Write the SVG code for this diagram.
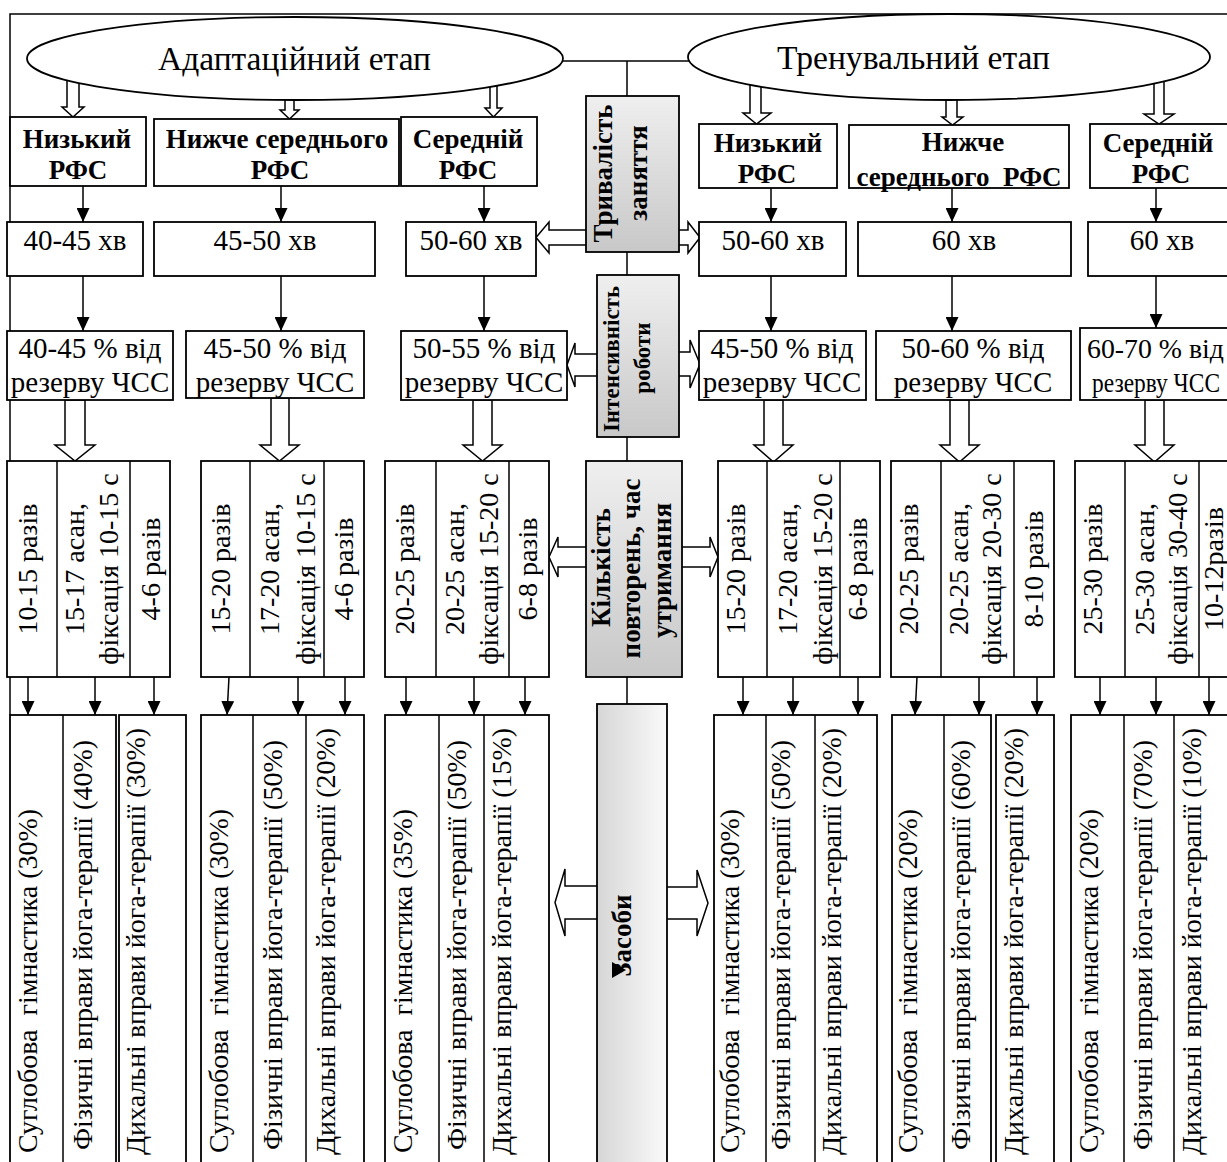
<svg xmlns="http://www.w3.org/2000/svg" width="1227" height="1162" viewBox="0 0 1227 1162" font-family="'Liberation Serif', 'Times New Roman', serif">
<defs>
<style>
.bx{fill:#fff;stroke:#000;stroke-width:1.8}
.gb{stroke:#000;stroke-width:1.8}
.ln{fill:none;stroke:#000;stroke-width:1.5}
.ar{fill:none;stroke:#000;stroke-width:1.5;marker-end:url(#ah)}
.ha{fill:#fff;stroke:#000;stroke-width:1.5}
.tc,.tr,.ts,.b,.bs,.e{font-family:'Liberation Serif','Times New Roman',serif;fill:#000;font-weight:normal}
.tc{font-size:29px;text-anchor:middle}
.tr{font-size:28px;text-anchor:middle}
.ts{font-size:28px;text-anchor:start}
.b{font-size:27px;font-weight:bold;text-anchor:middle}
.bs{font-size:23px;font-weight:bold;text-anchor:middle}
.e{font-size:33px;text-anchor:middle}
</style>
<marker id="ah" viewBox="0 0 14 13" refX="14" refY="6.5" markerWidth="14" markerHeight="13" markerUnits="userSpaceOnUse" orient="auto"><path d="M0,0L14,6.5L0,13Z" fill="#000"/></marker>
<linearGradient id="gv" x1="0" y1="0" x2="0" y2="1"><stop offset="0" stop-color="#efefef"/><stop offset="1" stop-color="#c8c8c8"/></linearGradient>
<linearGradient id="gh" x1="0" y1="0" x2="1" y2="0"><stop offset="0" stop-color="#d6d6d6"/><stop offset="1" stop-color="#fafafa"/></linearGradient>
</defs>
<rect width="1227" height="1162" fill="#fff"/>

<g id="connectors">
<path class="ln" d="M10,715V14H1240"/>
<path class="ln" d="M627,61V704"/>
<path class="ln" d="M563,61H690"/>
<path class="ar" d="M83,186V222"/><path class="ar" d="M83,276V331"/>
<path class="ar" d="M281,186V222"/><path class="ar" d="M281,276V331"/>
<path class="ar" d="M484,186V222"/><path class="ar" d="M484,276V331"/>
<path class="ar" d="M771,188V222"/><path class="ar" d="M771,276V331"/>
<path class="ar" d="M952,188V222"/><path class="ar" d="M952,276V331"/>
<path class="ar" d="M1156,188V222"/><path class="ar" d="M1156,276V328"/>
<path class="ar" d="M28,677V715"/><path class="ar" d="M95,677V715"/><path class="ar" d="M154,677V715"/>
<path class="ar" d="M229,677L227,715"/><path class="ar" d="M298,677V715"/><path class="ar" d="M345,677V715"/>
<path class="ar" d="M406,677V715"/><path class="ar" d="M474,677V715"/><path class="ar" d="M525,677V715"/>
<path class="ar" d="M743,677V715"/><path class="ar" d="M793,677V715"/><path class="ar" d="M858,677V715"/>
<path class="ar" d="M917,677L915,715"/><path class="ar" d="M979,677V715"/><path class="ar" d="M1037,677V715"/>
<path class="ar" d="M1100,677V715"/><path class="ar" d="M1156,677V715"/><path class="ar" d="M1209,677V715"/>
<path class="ha" d="M67,70H79V107H84L73,117L62,107H67Z"/>
<path class="ha" d="M285,90H294V110H299L289.5,119L280,110H285Z"/>
<path class="ha" d="M490,70H497V108H502L493.5,117L485,108H490Z"/>
<path class="ha" d="M750,70H761V113H771L756.5,124L743,113H750Z"/>
<path class="ha" d="M946,90H957V117H963L952.5,125L942,117H946Z"/>
<path class="ha" d="M1154,70H1164V114H1174L1159,124L1144,114H1154Z"/>
<path class="ha" d="M65,400H85V445H95L75,461L55,445H65Z"/>
<path class="ha" d="M271,398H289V445H299L279.5,461L260,445H271Z"/>
<path class="ha" d="M473,400H492V445H502L482.5,461L463,445H473Z"/>
<path class="ha" d="M764,400H783V445H793L773.5,462L754,445H764Z"/>
<path class="ha" d="M950,400H969V445H979L959.5,462L940,445H950Z"/>
<path class="ha" d="M1145,400H1164V445H1174L1154.5,462L1135,445H1145Z"/>
<path class="ha" d="M595,230H549V222L536,237.5L549,253V245H595Z"/>
<path class="ha" d="M670,230H688V222L700,237.5L688,253V245H670Z"/>
<path class="ha" d="M600,354H575V343L567,365L575,387V376H600Z"/>
<path class="ha" d="M670,352H690V340L700,364L690,388V376H670Z"/>
<path class="ha" d="M590,547H558V537L549,557L558,577V567H590Z"/>
<path class="ha" d="M678,547H710V537L718,557L710,577V567H678Z"/>
<path class="ha" d="M600,886H565V869L555,902.5L565,936V919H600Z"/>
<path class="ha" d="M664,887H697V870L708,903L697,936V919H664Z"/>
</g>

<g id="stage-adapt">
<ellipse class="bx" cx="295" cy="58.5" rx="268" ry="41.5"/>
<text class="e" x="294.5" y="70" textLength="273" lengthAdjust="spacingAndGlyphs">Адаптаційний етап</text>
</g>
<g id="stage-train">
<ellipse class="bx" cx="949" cy="57" rx="261" ry="43"/>
<text class="e" x="913.5" y="69" textLength="273" lengthAdjust="spacingAndGlyphs">Тренувальний етап</text>
</g>

<g id="a-low"><rect class="bx" x="10" y="117" width="136" height="69"/><text class="b" x="77" y="148">Низький</text><text class="b" x="78" y="179">РФС</text></g>
<g id="a-below"><rect class="bx" x="154" y="119" width="245" height="67"/><text class="b" x="277" y="148">Нижче середнього</text><text class="b" x="280" y="179">РФС</text></g>
<g id="a-mid"><rect class="bx" x="401" y="117" width="136" height="69"/><text class="b" x="468" y="148">Середній</text><text class="b" x="468" y="179">РФС</text></g>
<g id="t-low"><rect class="bx" x="699" y="124" width="138" height="64"/><text class="b" x="768" y="152">Низький</text><text class="b" x="767" y="183">РФС</text></g>
<g id="t-below"><rect class="bx" x="849" y="125" width="220" height="63"/><text class="b" x="963" y="151">Нижче</text><text class="b" x="959" y="186">середнього&#160; РФС</text></g>
<g id="t-mid"><rect class="bx" x="1090" y="124" width="150" height="64"/><text class="b" x="1158" y="152">Середній</text><text class="b" x="1161" y="183">РФС</text></g>

<g id="a-low-time"><rect class="bx" x="7" y="222" width="136" height="54"/><text class="tc" x="75" y="250">40-45 хв</text></g>
<g id="a-below-time"><rect class="bx" x="154" y="222" width="221" height="54"/><text class="tc" x="265" y="250">45-50 хв</text></g>
<g id="a-mid-time"><rect class="bx" x="406" y="222" width="130" height="54"/><text class="tc" x="471" y="250">50-60 хв</text></g>
<g id="t-low-time"><rect class="bx" x="699" y="222" width="147" height="54"/><text class="tc" x="773" y="250">50-60 хв</text></g>
<g id="t-below-time"><rect class="bx" x="858" y="222" width="213" height="54"/><text class="tc" x="964" y="250">60 хв</text></g>
<g id="t-mid-time"><rect class="bx" x="1088" y="222" width="152" height="54"/><text class="tc" x="1162" y="250">60 хв</text></g>

<g id="a-low-hr"><rect class="bx" x="7" y="331" width="166" height="69"/><text class="tc" x="90" y="358">40-45 % від</text><text class="tc" x="90" y="392">резерву ЧСС</text></g>
<g id="a-below-hr"><rect class="bx" x="186" y="331" width="178" height="67"/><text class="tc" x="275" y="358">45-50 % від</text><text class="tc" x="275" y="392">резерву ЧСС</text></g>
<g id="a-mid-hr"><rect class="bx" x="401" y="331" width="166" height="69"/><text class="tc" x="484" y="358">50-55 % від</text><text class="tc" x="484" y="392">резерву ЧСС</text></g>
<g id="t-low-hr"><rect class="bx" x="699" y="331" width="167" height="69"/><text class="tc" x="782" y="358">45-50 % від</text><text class="tc" x="782" y="392">резерву ЧСС</text></g>
<g id="t-below-hr"><rect class="bx" x="876" y="331" width="195" height="69"/><text class="tc" x="973" y="358">50-60 % від</text><text class="tc" x="973" y="392">резерву ЧСС</text></g>
<g id="t-mid-hr"><rect class="bx" x="1080" y="328" width="160" height="72"/><text class="ts" x="1087" y="358" font-size="29" textLength="137" lengthAdjust="spacingAndGlyphs">60-70 % від</text><text class="ts" x="1092" y="392" textLength="128" lengthAdjust="spacingAndGlyphs">резерву ЧСС</text></g>

<g id="duration"><rect class="gb" x="586" y="96" width="93" height="156" fill="url(#gv)"/>
<text class="b" transform="translate(612,173.5) rotate(-90)" font-size="28">Тривалість</text>
<text class="b" transform="translate(647,173) rotate(-90)" font-size="28">заняття</text></g>
<g id="intensity"><rect class="gb" x="597" y="275" width="82" height="162" fill="url(#gv)"/>
<text class="bs" transform="translate(619,359) rotate(-90)">Інтенсивність</text>
<text class="bs" transform="translate(650,358) rotate(-90)">роботи</text></g>
<g id="repeats"><rect class="gb" x="586" y="461" width="96" height="216" fill="url(#gv)"/>
<text class="b" transform="translate(610,567.5) rotate(-90)">Кількість</text>
<text class="b" transform="translate(640,568.5) rotate(-90)">повторень, час</text>
<text class="b" transform="translate(671,570.5) rotate(-90)">утримання</text></g>
<g id="means"><rect class="gb" x="597" y="704" width="70" height="470" fill="url(#gh)"/>
<text class="b" transform="translate(631,935.5) rotate(-90)" font-size="28">Засоби</text>
<polygon points="612,962 626,970 612,978" fill="#000"/></g>

<g id="a-low-reps"><rect class="bx" x="7" y="461" width="163" height="216"/><path class="ln" d="M57,461V677M130,461V677"/>
<text class="tr" transform="translate(36.5,569) rotate(-90)">10-15 разів</text>
<text class="tr" transform="translate(83.5,569) rotate(-90)">15-17 асан,</text>
<text class="tr" transform="translate(117.5,569) rotate(-90)">фіксація 10-15 с</text>
<text class="tr" transform="translate(160,569) rotate(-90)">4-6 разів</text></g>
<g id="a-below-reps"><rect class="bx" x="201" y="461" width="163" height="216"/><path class="ln" d="M250,461V677M324,461V677"/>
<text class="tr" transform="translate(229.5,569) rotate(-90)">15-20 разів</text>
<text class="tr" transform="translate(278.5,569) rotate(-90)">17-20 асан,</text>
<text class="tr" transform="translate(314.5,569) rotate(-90)">фіксація 10-15 с</text>
<text class="tr" transform="translate(352.5,569) rotate(-90)">4-6 разів</text></g>
<g id="a-mid-reps"><rect class="bx" x="385" y="461" width="164" height="216"/><path class="ln" d="M436,461V677M509,461V677"/>
<text class="tr" transform="translate(413.5,569) rotate(-90)">20-25 разів</text>
<text class="tr" transform="translate(463.5,569) rotate(-90)">20-25 асан,</text>
<text class="tr" transform="translate(497.5,569) rotate(-90)">фіксація 15-20 с</text>
<text class="tr" transform="translate(536.5,569) rotate(-90)">6-8 разів</text></g>
<g id="t-low-reps"><rect class="bx" x="718" y="461" width="162" height="216"/><path class="ln" d="M767,461V677M840,461V677"/>
<text class="tr" transform="translate(744.5,569) rotate(-90)">15-20 разів</text>
<text class="tr" transform="translate(796.5,569) rotate(-90)">17-20 асан,</text>
<text class="tr" transform="translate(831.5,569) rotate(-90)">фіксація 15-20 с</text>
<text class="tr" transform="translate(866.5,569) rotate(-90)">6-8 разів</text></g>
<g id="t-below-reps"><rect class="bx" x="891" y="461" width="163" height="216"/><path class="ln" d="M941,461V677M1014,461V677"/>
<text class="tr" transform="translate(917.5,569) rotate(-90)">20-25 разів</text>
<text class="tr" transform="translate(967.5,569) rotate(-90)">20-25 асан,</text>
<text class="tr" transform="translate(1000.5,569) rotate(-90)">фіксація 20-30 с</text>
<text class="tr" transform="translate(1042.5,569) rotate(-90)">8-10 разів</text></g>
<g id="t-mid-reps"><rect class="bx" x="1075" y="461" width="165" height="216"/><path class="ln" d="M1125,461V677M1199,461V677"/>
<text class="tr" transform="translate(1101.5,569) rotate(-90)">25-30 разів</text>
<text class="tr" transform="translate(1153.5,569) rotate(-90)">25-30 асан,</text>
<text class="tr" transform="translate(1186.5,569) rotate(-90)">фіксація 30-40 с</text>
<text class="tr" transform="translate(1222.5,569) rotate(-90)">10-12разів</text></g>

<g id="a-low-means"><rect class="bx" x="10" y="715" width="106" height="460"/><rect class="bx" x="119" y="715" width="67" height="460"/><path class="ln" d="M63,715V1175"/>
<text class="ts" transform="translate(36.5,1153) rotate(-90)">Суглобова&#160; гімнастика (30%)</text>
<text class="ts" transform="translate(91.5,1150) rotate(-90)">Фізичні вправи йога-терапії (40%)</text>
<text class="ts" transform="translate(144.5,1155) rotate(-90)">Дихальні вправи йога-терапії (30%)</text></g>
<g id="a-below-means"><rect class="bx" x="201" y="715" width="163" height="460"/><path class="ln" d="M253,715V1175M306,715V1175"/>
<text class="ts" transform="translate(227.5,1153) rotate(-90)">Суглобова&#160; гімнастика (30%)</text>
<text class="ts" transform="translate(281.5,1150) rotate(-90)">Фізичні вправи йога-терапії (50%)</text>
<text class="ts" transform="translate(334.5,1155) rotate(-90)">Дихальні вправи йога-терапії (20%)</text></g>
<g id="a-mid-means"><rect class="bx" x="385" y="715" width="164" height="460"/><path class="ln" d="M439,715V1175M484,715V1175"/>
<text class="ts" transform="translate(411.5,1153) rotate(-90)">Суглобова&#160; гімнастика (35%)</text>
<text class="ts" transform="translate(465.5,1150) rotate(-90)">Фізичні вправи йога-терапії (50%)</text>
<text class="ts" transform="translate(510.5,1155) rotate(-90)">Дихальні вправи йога-терапії (15%)</text></g>
<g id="t-low-means"><rect class="bx" x="714" y="715" width="163" height="460"/><path class="ln" d="M766,715V1175M815,715V1175"/>
<text class="ts" transform="translate(738.5,1153) rotate(-90)">Суглобова&#160; гімнастика (30%)</text>
<text class="ts" transform="translate(789.5,1150) rotate(-90)">Фізичні вправи йога-терапії (50%)</text>
<text class="ts" transform="translate(840.5,1155) rotate(-90)">Дихальні вправи йога-терапії (20%)</text></g>
<g id="t-below-means"><rect class="bx" x="892" y="715" width="99" height="460"/><rect class="bx" x="996" y="715" width="58" height="460"/><path class="ln" d="M944,715V1175"/>
<text class="ts" transform="translate(916.5,1153) rotate(-90)">Суглобова&#160; гімнастика (20%)</text>
<text class="ts" transform="translate(969.5,1150) rotate(-90)">Фізичні вправи йога-терапії (60%)</text>
<text class="ts" transform="translate(1022.5,1155) rotate(-90)">Дихальні вправи йога-терапії (20%)</text></g>
<g id="t-mid-means"><rect class="bx" x="1071" y="715" width="169" height="460"/><path class="ln" d="M1124,715V1175M1174,715V1175"/>
<text class="ts" transform="translate(1097.5,1153) rotate(-90)">Суглобова&#160; гімнастика (20%)</text>
<text class="ts" transform="translate(1151.5,1150) rotate(-90)">Фізичні вправи йога-терапії (70%)</text>
<text class="ts" transform="translate(1200.5,1155) rotate(-90)">Дихальні вправи йога-терапії (10%)</text></g>
</svg>
